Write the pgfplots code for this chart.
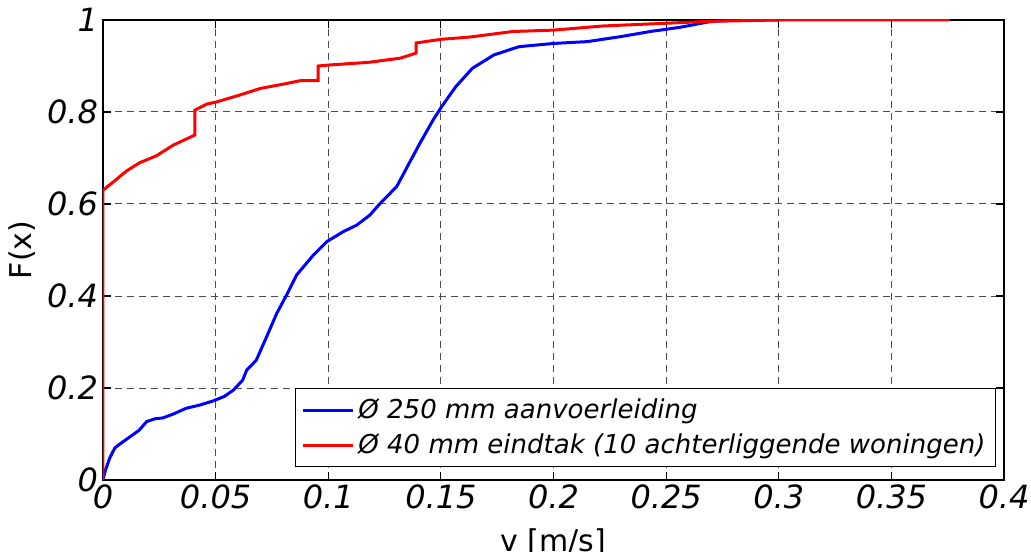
\documentclass[border=0pt]{standalone}
\usepackage{fontspec}
\setmainfont{DejaVu Sans}
\usepackage{pgfplots}
\pgfplotsset{compat=1.18}
\begin{document}
\begin{tikzpicture}
\begin{axis}[
  scale only axis,
  width=450.5pt, height=230pt,
  xmin=0, xmax=0.4, ymin=0, ymax=1,
  xtick={0,0.05,0.1,0.15,0.2,0.25,0.3,0.35,0.4},
  xticklabels={0,0.05,0.1,0.15,0.2,0.25,0.3,0.35,0.4},
  ytick={0,0.2,0.4,0.6,0.8,1},
  yticklabels={0,0.2,0.4,0.6,0.8,1},
  ticklabel style={font=\fontsize{16}{18}\selectfont\itshape},
  xticklabel style={yshift=1pt},
  yticklabel style={xshift=1pt},
  tick align=inside, tick pos=both, major tick length=4pt,
  tick style={black, line width=0.6pt},
  axis line style={black, line width=0.8pt},
  grid=major,
  major grid style={black!70, dash pattern=on 3.5pt off 2.5pt, line width=0.5pt},
  xlabel={v [m/s]}, ylabel={F(x)},
  label style={font=\fontsize{15}{17}\selectfont},
  xlabel style={yshift=-3pt},
  ylabel style={yshift=-1pt},
  legend style={at={(1,0)}, anchor=south east, xshift=-4pt, yshift=6.5pt,
    font=\fontsize{13}{15}\selectfont\itshape, draw=black, line width=0.6pt,
    row sep=2pt, inner sep=3pt},
  legend cell align=left,
  legend image code/.code={\draw[#1, line width=1.5pt] (0pt,0pt) -- (25pt,0pt);},
]
\addplot[blue, line width=1.5pt] coordinates {
(0,0) (0.001,0.02) (0.003,0.048) (0.0053,0.07) (0.008,0.08) (0.012,0.094)
(0.016,0.108) (0.0194,0.127) (0.023,0.133) (0.0266,0.135) (0.031,0.143)
(0.037,0.156) (0.043,0.163) (0.049,0.172) (0.054,0.182) (0.058,0.196)
(0.062,0.217) (0.0638,0.239) (0.068,0.26) (0.0727,0.312) (0.0771,0.362)
(0.0815,0.402) (0.086,0.446) (0.0934,0.489) (0.0993,0.518) (0.1067,0.54)
(0.1126,0.554) (0.1185,0.576) (0.123,0.601) (0.1304,0.638) (0.1363,0.692)
(0.1407,0.732) (0.1466,0.783) (0.1504,0.812) (0.1566,0.855) (0.164,0.895)
(0.1735,0.924) (0.1847,0.942) (0.2,0.949) (0.215,0.953) (0.23,0.964)
(0.243,0.975) (0.256,0.984) (0.269,0.996) (0.279,1.0) (0.3,1.0)
};
\addlegendentry{Ø 250 mm aanvoerleiding}
\addplot[red, line width=1.5pt] coordinates {
(0,0) (0,0.63) (0.0046,0.648) (0.0105,0.672) (0.0164,0.69) (0.0238,0.705)
(0.0312,0.728) (0.0408,0.75) (0.0408,0.804) (0.046,0.817) (0.0505,0.822)
(0.0608,0.837) (0.0697,0.851) (0.0815,0.862) (0.0875,0.868) (0.0955,0.868)
(0.0955,0.9) (0.1,0.902) (0.118,0.908) (0.132,0.917) (0.139,0.928)
(0.139,0.95) (0.15,0.958) (0.163,0.963) (0.182,0.975) (0.2,0.978)
(0.222,0.987) (0.241,0.991) (0.269,0.997) (0.3,1.0) (0.376,1.0)
};
\addlegendentry{Ø 40 mm eindtak (10 achterliggende woningen)}
\end{axis}
\pgfresetboundingbox
\path[use as bounding box] (-51.5pt,-35.5pt) rectangle (464pt,240pt);
\end{tikzpicture}
\end{document}
